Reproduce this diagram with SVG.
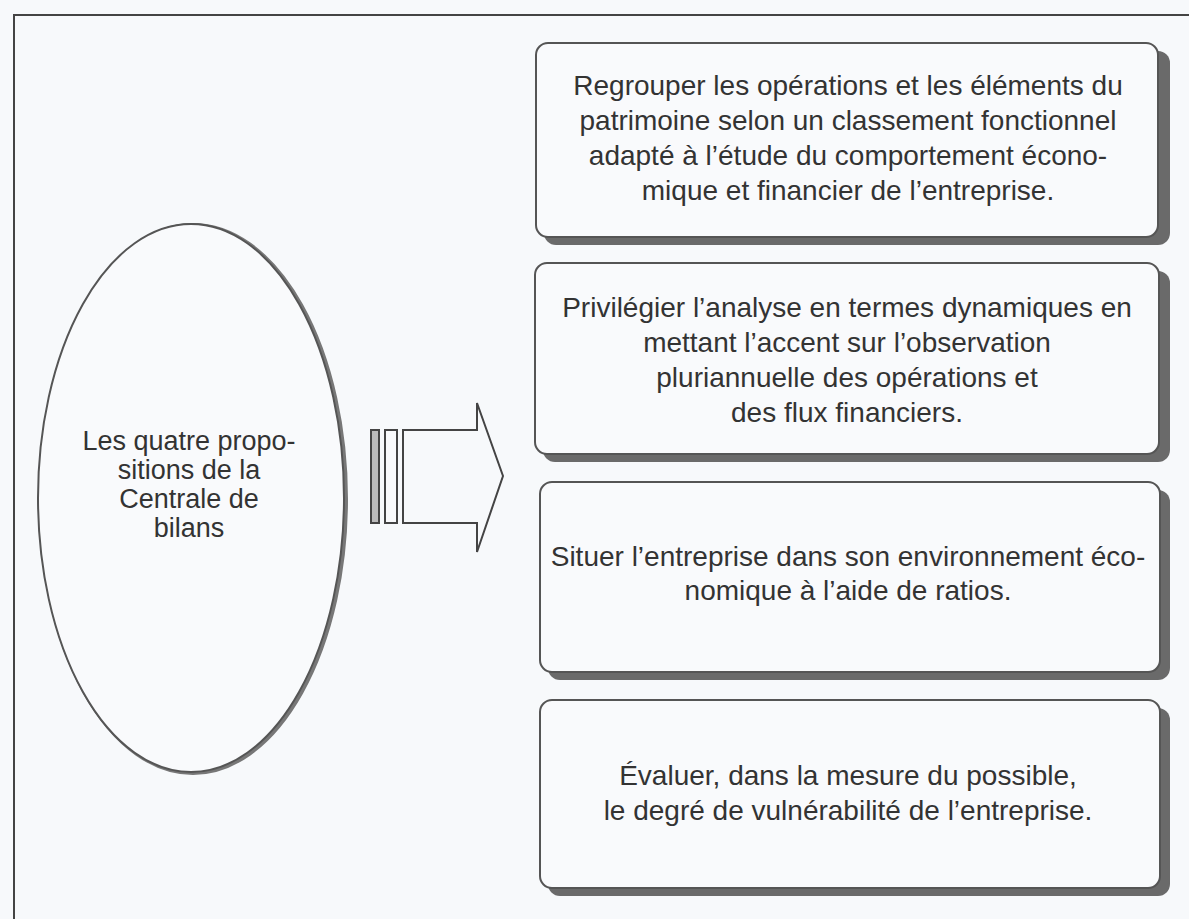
<svg xmlns="http://www.w3.org/2000/svg" width="1189" height="919" viewBox="0 0 1189 919">
<style>
.bg{fill:#f7f9fb}
.frame{fill:none;stroke:#444;stroke-width:2}
.box{fill:#f9fafc;stroke:#555;stroke-width:2}
.shadow{fill:#6a6a6a}
.t{font-family:"Liberation Sans","DejaVu Sans",sans-serif;font-size:28px;fill:#333;text-anchor:middle}
.te{font-family:"Liberation Sans","DejaVu Sans",sans-serif;font-size:27px;fill:#333;text-anchor:middle}
.ln{fill:none;stroke:#444;stroke-width:2}
</style>
<rect class="bg" x="0" y="0" width="1189" height="919"/>
<path class="frame" d="M14,919 V15 H1189"/>

<g id="ellipse">
<ellipse cx="193" cy="499" rx="153" ry="274" fill="none" stroke="#777" stroke-width="4"/>
<ellipse cx="191" cy="498" rx="153" ry="274" fill="#f9fafc" stroke="#555" stroke-width="2"/>
<text class="te" x="189" y="450">Les quatre propo-</text>
<text class="te" x="189" y="479">sitions de la</text>
<text class="te" x="189" y="508">Centrale de</text>
<text class="te" x="189" y="537">bilans</text>
</g>

<g id="connectors">
<rect x="371" y="430" width="8" height="93" fill="#bbb" stroke="#444" stroke-width="2"/>
<rect x="385" y="430" width="12" height="93" fill="#f9fafc" stroke="#444" stroke-width="2"/>
<path class="ln" d="M403,430 H477 V403 L503,476 L477,552 V523 H403 Z" fill="#f9fafc"/>
</g>

<g id="box1">
<rect class="shadow" x="544" y="51" width="626" height="194" rx="12"/>
<rect class="box" x="536" y="43" width="622" height="194" rx="12"/>
<text class="t" x="848" y="95">Regrouper les opérations et les éléments du</text>
<text class="t" x="848" y="130">patrimoine selon un classement fonctionnel</text>
<text class="t" x="848" y="165">adapté à l’étude du comportement écono-</text>
<text class="t" x="848" y="200">mique et financier de l’entreprise.</text>
</g>

<g id="box2">
<rect class="shadow" x="543" y="271" width="627" height="191" rx="12"/>
<rect class="box" x="535" y="263" width="624" height="191" rx="12"/>
<text class="t" x="847" y="317">Privilégier l’analyse en termes dynamiques en</text>
<text class="t" x="847" y="352">mettant l’accent sur l’observation</text>
<text class="t" x="847" y="387">pluriannuelle des opérations et</text>
<text class="t" x="847" y="422">des flux financiers.</text>
</g>

<g id="box3">
<rect class="shadow" x="548" y="490" width="622" height="190" rx="12"/>
<rect class="box" x="540" y="482" width="620" height="190" rx="12"/>
<text class="t" x="848" y="566">Situer l’entreprise dans son environnement éco-</text>
<text class="t" x="848" y="600">nomique à l’aide de ratios.</text>
</g>

<g id="box4">
<rect class="shadow" x="548" y="708" width="622" height="188" rx="12"/>
<rect class="box" x="540" y="700" width="620" height="188" rx="12"/>
<text class="t" x="848" y="785">Évaluer, dans la mesure du possible,</text>
<text class="t" x="848" y="820">le degré de vulnérabilité de l’entreprise.</text>
</g>
</svg>
